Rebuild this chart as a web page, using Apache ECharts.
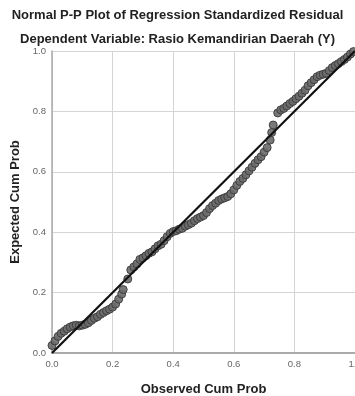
<!DOCTYPE html>
<html>
<head>
<meta charset="utf-8">
<script src="https://cdn.jsdelivr.net/npm/echarts@6/dist/echarts.min.js"></script>
<style>html,body{margin:0;padding:0;background:#fff;}#c{width:355px;height:396px;}</style>
</head>
<body>
<div id="c"></div>
<script>
var titleText = "Normal P-P Plot of Regression Standardized Residual";
var subtitleText = "Dependent Variable: Rasio Kemandirian Daerah (Y)";
var xName = "Observed Cum Prob";
var yName = "Expected Cum Prob";
var ticks = [0, 0.2, 0.4, 0.6, 0.8, 1.0];
var observed = [0.00,0.01,0.02,0.03,0.04,0.05,0.06,0.07,0.08,0.09,0.10,0.11,0.12,0.13,0.14,0.15,0.16,0.17,0.18,0.19,0.20,0.21,0.22,0.23,0.235,0.25,0.26,0.27,0.28,0.29,0.30,0.31,0.32,0.33,0.34,0.35,0.36,0.37,0.38,0.39,0.40,0.41,0.42,0.43,0.44,0.45,0.46,0.47,0.48,0.49,0.50,0.51,0.52,0.53,0.54,0.55,0.56,0.57,0.58,0.59,0.60,0.61,0.62,0.63,0.64,0.65,0.66,0.67,0.68,0.69,0.70,0.71,0.72,0.725,0.73,0.745,0.755,0.765,0.775,0.785,0.795,0.805,0.815,0.825,0.835,0.845,0.855,0.865,0.875,0.885,0.895,0.905,0.915,0.925,0.935,0.945,0.955,0.965,0.975,0.985,0.995];
var expected = [0.025,0.04,0.055,0.065,0.072,0.08,0.086,0.09,0.092,0.09,0.092,0.095,0.10,0.108,0.115,0.12,0.128,0.134,0.14,0.145,0.152,0.162,0.178,0.195,0.21,0.245,0.275,0.285,0.295,0.31,0.315,0.322,0.33,0.335,0.345,0.355,0.36,0.372,0.385,0.396,0.402,0.405,0.41,0.413,0.42,0.425,0.43,0.438,0.445,0.45,0.455,0.465,0.478,0.488,0.496,0.505,0.51,0.514,0.518,0.527,0.54,0.555,0.568,0.578,0.59,0.603,0.615,0.628,0.64,0.65,0.665,0.68,0.705,0.73,0.755,0.795,0.805,0.81,0.818,0.826,0.833,0.842,0.85,0.86,0.87,0.885,0.895,0.905,0.915,0.92,0.923,0.926,0.935,0.945,0.952,0.958,0.965,0.972,0.98,0.99,0.998];
var refLine = [[0, 0], [1, 1]];

var pts = observed.map(function (x, i) { return [x, expected[i]]; });
var chart = echarts.init(document.getElementById('c'), null, {renderer: 'canvas'});
var fontFam = '"Liberation Sans", Arial, sans-serif';
var axisCommon = {
  min: 0, max: 1, interval: 0.2,
  nameLocation: 'middle',
  nameTextStyle: {fontFamily: fontFam, fontWeight: 'bold', fontSize: 13, color: '#222'},
  axisTick: {show: false},
  axisLabel: {fontFamily: fontFam, fontSize: 9.5, color: '#666', formatter: function (v) { return v.toFixed(1); }},
  splitLine: {show: true, lineStyle: {color: '#d4d4d4', width: 1}}
};
chart.setOption({
  animation: false,
  backgroundColor: '#fff',
  title: [
    {text: titleText, left: 'center', top: 4, textStyle: {fontFamily: fontFam, fontWeight: 'bold', fontSize: 13, color: '#222'}},
    {text: subtitleText, left: 'center', top: 28, textStyle: {fontFamily: fontFam, fontWeight: 'bold', fontSize: 13, color: '#222'}}
  ],
  grid: {left: 52, right: 0, top: 51, bottom: 43, containLabel: false, outerBoundsMode: 'none'},
  xAxis: Object.assign({}, axisCommon, {
    type: 'value', name: xName, nameGap: 30,
    axisLine: {show: true, onZero: false, lineStyle: {color: '#aaa', width: 2}},
    axisLabel: Object.assign({}, axisCommon.axisLabel, {margin: 6})
  }),
  yAxis: Object.assign({}, axisCommon, {
    type: 'value', name: yName, nameGap: 25,
    axisLine: {show: true, onZero: false, lineStyle: {color: '#aaa', width: 1.5}},
    axisLabel: Object.assign({}, axisCommon.axisLabel, {margin: 6})
  }),
  series: [
    {
      type: 'scatter', data: pts, symbol: 'circle', symbolSize: 8, z: 2,
      itemStyle: {color: '#6a6a6a', borderColor: '#3a3a3a', borderWidth: 1, opacity: 0.9}
    },
    {
      type: 'line', data: refLine, showSymbol: false, z: 3,
      lineStyle: {color: '#111', width: 2.2}
    }
  ]
});
</script>
</body>
</html>
